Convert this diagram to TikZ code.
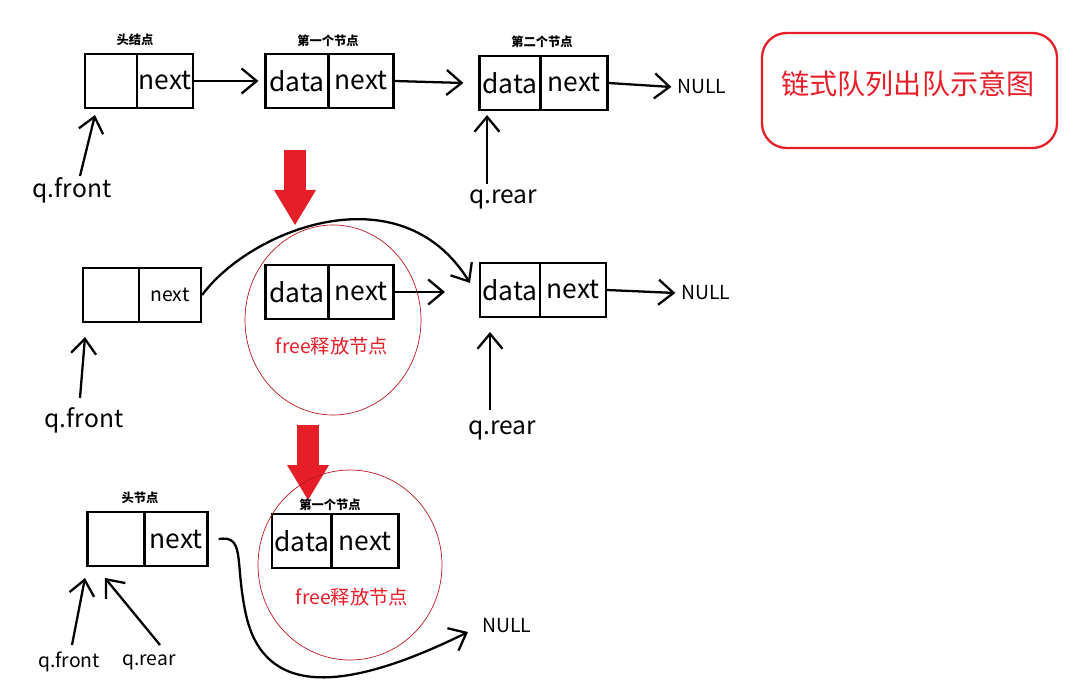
\documentclass[tikz,border=0pt]{standalone}
\usepackage{fontspec}
\setmainfont{Noto Sans CJK SC}
\usetikzlibrary{arrows.meta}
\definecolor{qred}{RGB}{230,30,40}
\tikzset{
    cell/.style={draw, line width=1.3pt, minimum height=1.08cm, inner sep=0pt, font=\fontsize{15}{15}\selectfont},
    ptr/.style={line width=1.3pt, -{Straight Barb[length=3mm, width=5mm]}},
    tag/.style={font=\bfseries\fontsize{7}{7}\selectfont},
    var/.style={font=\fontsize{14}{14}\selectfont},
    nul/.style={font=\fontsize{11}{11}\selectfont},
    freed/.style={draw=qred!80!black, thin},
}
\newcommand{\dropmark}[2]{%
    \fill[qred] (#1-11,#2) rectangle (#1+11,#2+40);
    \fill[qred] (#1-21,#2+40) -- (#1+21,#2+40) -- (#1,#2+75) -- cycle;}
\begin{document}
\begin{tikzpicture}[x=0.02cm, y=-0.02cm]
    \useasboundingbox (0,0) rectangle (1082,692);
    % row 1
    \node[cell, minimum width=1.04cm] (h1a) at (111,81) {};
    \node[cell, minimum width=1.12cm] (h1b) at (165,81) {next};
    \node[tag] (t1) at (135,40) {头结点};
    \node[cell, minimum width=1.26cm] (d1a) at (297,81) {data};
    \node[cell, minimum width=1.30cm] (d1b) at (361,81) {next};
    \node[tag] (t2) at (328,41) {第一个节点};
    \node[cell, minimum width=1.22cm] (e1a) at (510,83) {data};
    \node[cell, minimum width=1.34cm] (e1b) at (574,83) {next};
    \node[tag] (t3) at (542,42) {第二个节点};
    \node[nul] (n1) at (702,87) {NULL};
    \node[var] (f1) at (72,190) {q.front};
    \node[var] (r1) at (503,199) {q.rear};
    \coordinate (f1p) at (95,115);
    \coordinate (r1p) at (487,115);
    \draw[ptr] (h1b.east) -- ([xshift=-0.12cm]d1a.west);
    \draw[ptr] (d1b.east) -- ([xshift=-0.3cm]e1a.west);
    \draw[ptr] (e1b.east) -- (n1.west);
    \draw[ptr] (80,176) -- (f1p);
    \draw[ptr] (487,184) -- (r1p);
    \draw[qred, line width=1.3pt, rounded corners=14] (762,33) rectangle (1057,148);
    \node[qred, font=\fontsize{16}{16}\selectfont] (title) at (908,84) {链式队列出队示意图};
    \dropmark{295}{150}
    % row 2
    \node[cell, minimum width=1.12cm] (h2a) at (111,295) {};
    \node[cell, minimum width=1.24cm, font=\fontsize{11}{11}\selectfont] (h2b) at (170,295) {next};
    \node[cell, minimum width=1.26cm] (d2a) at (297,292) {data};
    \node[cell, minimum width=1.30cm] (d2b) at (361,292) {next};
    \node[cell, minimum width=1.20cm] (e2a) at (510,290) {data};
    \node[cell, minimum width=1.32cm] (e2b) at (573,290) {next};
    \node[nul] (n2) at (706,293) {NULL};
    \node[var] (f2) at (84,420) {q.front};
    \node[var] (r2) at (502,430) {q.rear};
    \coordinate (f2p) at (85,337);
    \coordinate (r2p) at (490,332);
    \draw[freed] (333,320) ellipse [x radius=88, y radius=95];
    \node[qred, font=\fontsize{11}{11}\selectfont] (free2) at (332,346) {free释放节点};
    \draw[ptr] (h2b.east) .. controls (250,230) and (400,170) .. (470,283);
    \draw[ptr] (d2b.east) -- (445,292);
    \draw[ptr] (e2b.east) -- (n2.west);
    \draw[ptr] (80,398) -- (f2p);
    \draw[ptr] (490,410) -- (r2p);
    \dropmark{308}{425}
    % row 3
    \node[cell, minimum width=1.14cm] (h3a) at (116,539) {};
    \node[cell, minimum width=1.26cm] (h3b) at (176,539) {next};
    \node[tag] (t4) at (140,498) {头节点};
    \node[cell, minimum width=1.20cm] (d3a) at (302,541) {data};
    \node[cell, minimum width=1.34cm] (d3b) at (365,541) {next};
    \node[tag] (t5) at (330,505) {第一个节点};
    \node[nul] (n3) at (507,626) {NULL};
    \node[var, font=\fontsize{11}{11}\selectfont] (f3) at (69,662) {q.front};
    \node[var, font=\fontsize{11}{11}\selectfont] (r3) at (149,662) {q.rear};
    \draw[freed] (350,565) ellipse [x radius=92, y radius=95];
    \node[qred, font=\fontsize{11}{11}\selectfont] (free3) at (352,597) {free释放节点};
    \draw[ptr] (h3b.east)++(10,0) .. controls (245,535) and (235,560) .. (245,610)
        .. controls (260,690) and (330,700) .. (468,632);
    \draw[ptr] (72,645) -- (85,578);
    \draw[ptr] (160,645) -- (105,578);
\end{tikzpicture}
\end{document}
